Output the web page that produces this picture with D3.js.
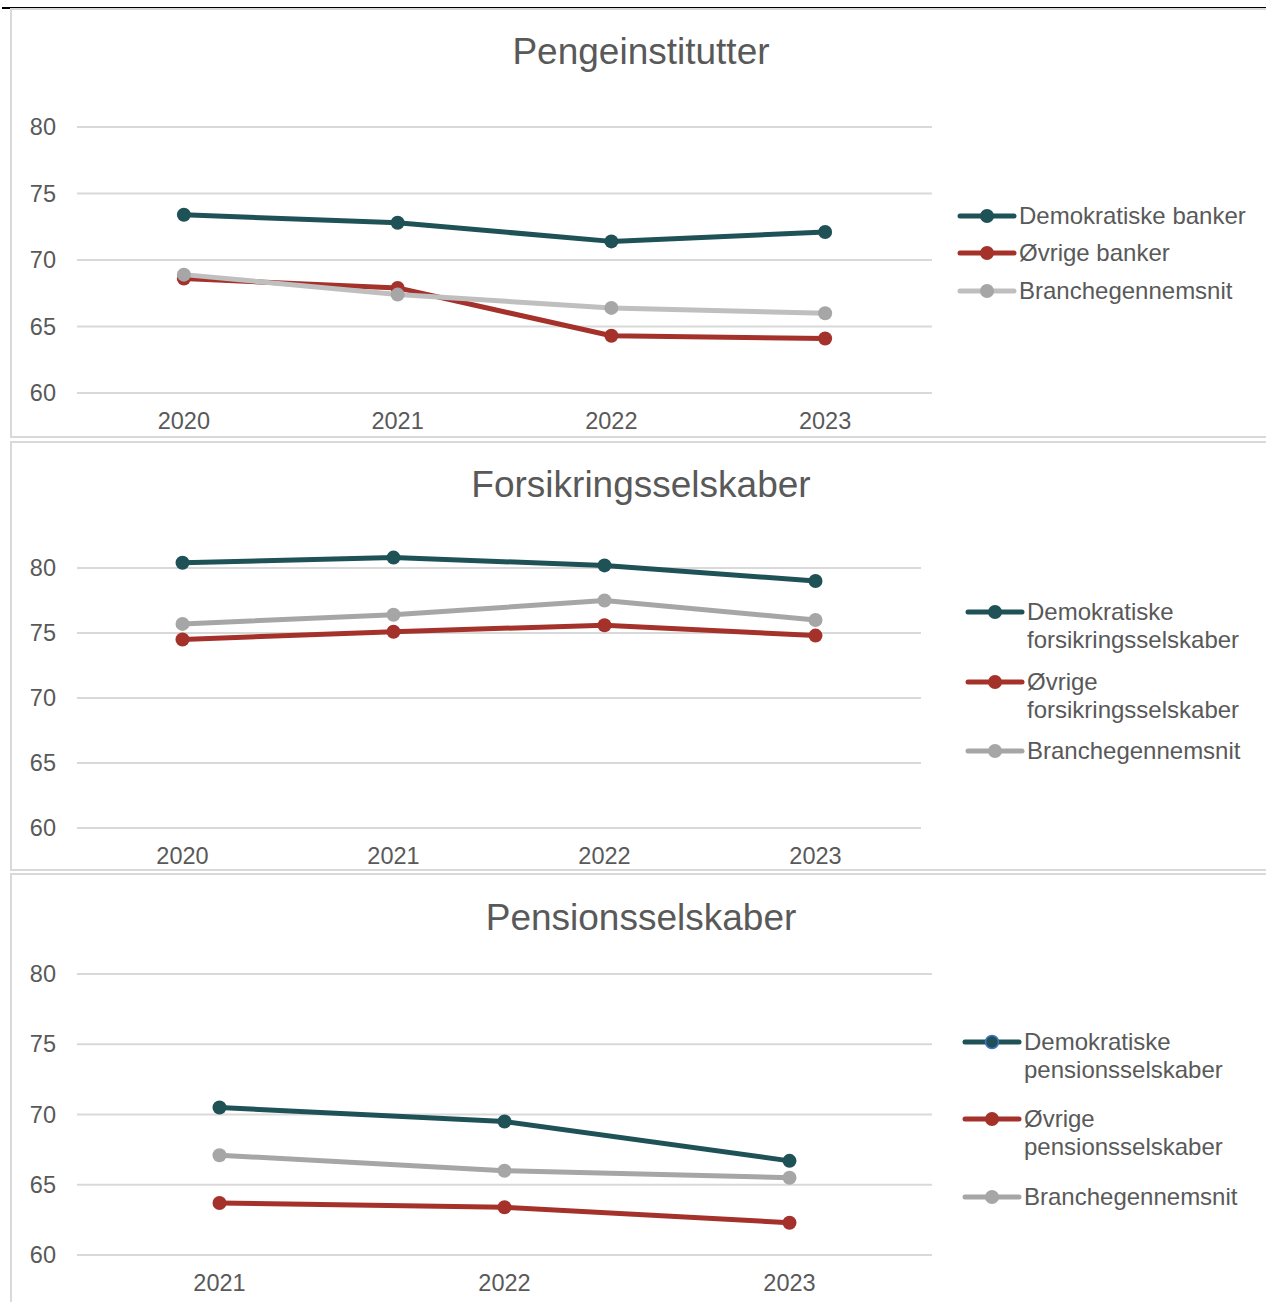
<!DOCTYPE html>
<html>
<head>
<meta charset="utf-8">
<script src="https://cdn.jsdelivr.net/npm/d3@7"></script>
<style>
  body { margin: 0; background: #fff; }
  svg { display: block; font-family: "Liberation Sans", Arial, sans-serif; }
</style>
</head>
<body>
<div id="visualization"></div>
<script>
const yTicks = [60, 65, 70, 75, 80];

// Pengeinstitutter
const bankYears = ["2020", "2021", "2022", "2023"];
const bankDemo = [73.4, 72.8, 71.4, 72.1];
const bankOther = [68.6, 67.9, 64.3, 64.1];
const bankAvg = [68.9, 67.4, 66.4, 66.0];
const bankLabels = [["Demokratiske banker"], ["Øvrige banker"], ["Branchegennemsnit"]];

// Forsikringsselskaber
const insYears = ["2020", "2021", "2022", "2023"];
const insDemo = [80.4, 80.8, 80.2, 79.0];
const insOther = [74.5, 75.1, 75.6, 74.8];
const insAvg = [75.7, 76.4, 77.5, 76.0];
const insLabels = [["Demokratiske", "forsikringsselskaber"], ["Øvrige", "forsikringsselskaber"], ["Branchegennemsnit"]];

// Pensionsselskaber
const penYears = ["2021", "2022", "2023"];
const penDemo = [70.5, 69.5, 66.7];
const penOther = [63.7, 63.4, 62.3];
const penAvg = [67.1, 66.0, 65.5];
const penLabels = [["Demokratiske", "pensionsselskaber"], ["Øvrige", "pensionsselskaber"], ["Branchegennemsnit"]];

const teal = "#1f5257", red = "#a4322b";

const svg = d3.select("#visualization")
    .append("svg")
    .attr("width", 1266)
    .attr("height", 1302);

// top rule
svg.append("line")
    .attr("x1", 2).attr("x2", 1266).attr("y1", 8).attr("y2", 8)
    .style("stroke", "#000").style("stroke-width", 2);

const panels = [
    {title: "Pengeinstitutter", top: 9, h: 428, y80: 127, y60: 393, x0: 77, x1: 932, titleY: 64, yearY: 429,
     years: bankYears, series: [bankDemo, bankOther, bankAvg], labels: bankLabels,
     avgLine: "#bfbfbf", avgDot: "#a6a6a6",
     legX: 960, legY: [216, 253, 291], lineGap: 27},
    {title: "Forsikringsselskaber", top: 442, h: 428, y80: 568, y60: 828, x0: 77, x1: 921, titleY: 497, yearY: 864,
     years: insYears, series: [insDemo, insOther, insAvg], labels: insLabels,
     avgLine: "#a6a6a6", avgDot: "#a6a6a6",
     legX: 968, legY: [612, 682, 751], lineGap: 28},
    {title: "Pensionsselskaber", top: 874, h: 440, y80: 974, y60: 1255, x0: 77, x1: 932, titleY: 930, yearY: 1291,
     years: penYears, series: [penDemo, penOther, penAvg], labels: penLabels,
     avgLine: "#a6a6a6", avgDot: "#a6a6a6",
     legX: 965, legY: [1042, 1119, 1197], lineGap: 28, demoLegendRing: "#4472c4"}
];

panels.forEach((p, pi) => {
    const g = svg.append("g");

    g.append("rect")
        .attr("x", 11).attr("y", p.top)
        .attr("width", 1270).attr("height", p.h)
        .style("fill", "none").style("stroke", "#d9d9d9").style("stroke-width", 2);

    g.append("text")
        .attr("x", 641).attr("y", p.titleY)
        .attr("text-anchor", "middle")
        .style("font-size", "37px").style("fill", "#595959")
        .text(p.title);

    const x = d3.scaleBand().domain(p.years).range([p.x0, p.x1]);
    const y = d3.scaleLinear().domain([60, 80]).range([p.y60, p.y80]);

    // gridlines
    g.append("g")
        .selectAll("line")
        .data(yTicks)
        .enter().append("line")
        .attr("x1", p.x0).attr("x2", p.x1)
        .attr("y1", (d) => y(d)).attr("y2", (d) => y(d))
        .style("stroke", "#d9d9d9").style("stroke-width", 2);

    // y axis labels
    const yAxis = g.append("g")
        .attr("transform", "translate(" + (p.x0 - 21) + ",0)")
        .call(d3.axisLeft(y).tickValues(yTicks).tickSize(0).tickPadding(0));
    yAxis.select(".domain").remove();
    yAxis.selectAll("text").style("font-size", "23.5px").style("fill", "#595959")
        .style("font-family", "Liberation Sans, Arial, sans-serif");

    // x axis labels
    const xAxis = g.append("g")
        .attr("transform", "translate(0," + (p.yearY - 17) + ")")
        .call(d3.axisBottom(x).tickSize(0).tickPadding(0));
    xAxis.select(".domain").remove();
    xAxis.selectAll("text").attr("dy", "0.71em").style("font-size", "23.5px").style("fill", "#595959")
        .style("font-family", "Liberation Sans, Arial, sans-serif");

    const lineColors = [teal, red, p.avgLine];
    const dotColors = [teal, red, p.avgDot];
    const cx = (i) => x(p.years[i]) + x.bandwidth() / 2;

    const line = d3.line()
        .x((d, i) => cx(i))
        .y((d) => y(d));

    // bank panel: grey average sits on top of red; others drawn in series order
    const order = pi === 0 ? [0, 1, 2] : [2, 1, 0];
    order.forEach((si) => {
        const vals = p.series[si];
        g.append("path")
            .datum(vals)
            .attr("d", line)
            .style("fill", "none")
            .style("stroke", lineColors[si])
            .style("stroke-width", 5)
            .style("stroke-linejoin", "round");
        g.selectAll(".dot" + si)
            .data(vals)
            .enter().append("circle")
            .attr("cx", (d, i) => cx(i))
            .attr("cy", (d) => y(d))
            .attr("r", 7)
            .style("fill", dotColors[si]);
    });

    // legend
    p.labels.forEach((lab, i) => {
        const ly = p.legY[i];
        g.append("line")
            .attr("x1", p.legX).attr("x2", p.legX + 54)
            .attr("y1", ly).attr("y2", ly)
            .style("stroke", lineColors[i]).style("stroke-width", 5)
            .style("stroke-linecap", "round");
        const c = g.append("circle")
            .attr("cx", p.legX + 27).attr("cy", ly).attr("r", 7)
            .style("fill", dotColors[i]);
        if (i === 0 && p.demoLegendRing) {
            c.style("stroke", p.demoLegendRing).style("stroke-width", 1.5).attr("r", 6.5);
        }
        const t = g.append("text")
            .attr("x", p.legX + 59).attr("y", ly + 8)
            .style("font-size", "24px").style("fill", "#595959");
        lab.forEach((s, k) => {
            t.append("tspan").attr("x", p.legX + 59).attr("dy", k === 0 ? 0 : p.lineGap).text(s);
        });
    });
});
</script>
</body>
</html>
